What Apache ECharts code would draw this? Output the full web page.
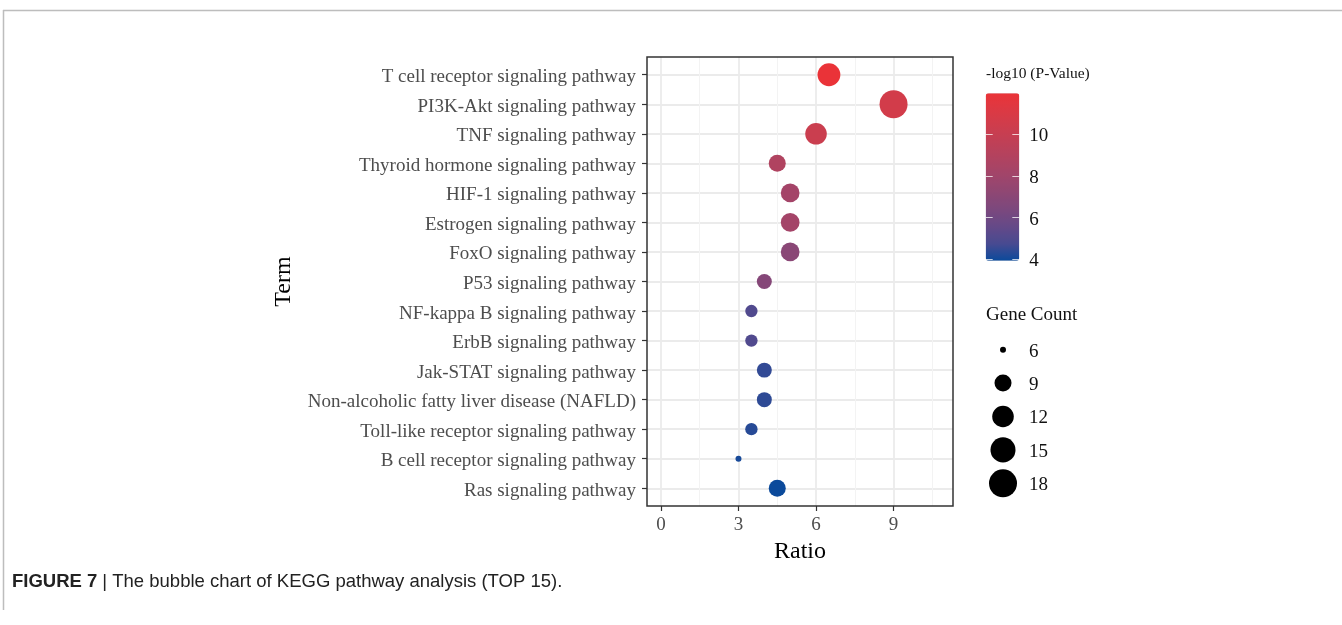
<!DOCTYPE html>
<html><head><meta charset="utf-8">
<script src="https://cdn.jsdelivr.net/npm/echarts@6/dist/echarts.min.js"></script>
<style>html,body{margin:0;padding:0;background:#fff}#c{width:1342px;height:625px}</style>
</head><body><div id="c"></div>
<script>
// ---- data ----
const terms = [
  'T cell receptor signaling pathway',
  'PI3K-Akt signaling pathway',
  'TNF signaling pathway',
  'Thyroid hormone signaling pathway',
  'HIF-1 signaling pathway',
  'Estrogen signaling pathway',
  'FoxO signaling pathway',
  'P53 signaling pathway',
  'NF-kappa B signaling pathway',
  'ErbB signaling pathway',
  'Jak-STAT signaling pathway',
  'Non-alcoholic fatty liver disease (NAFLD)',
  'Toll-like receptor signaling pathway',
  'B cell receptor signaling pathway',
  'Ras signaling pathway'
];
const ratios = [6.5, 9, 6, 4.5, 5, 5, 5, 4, 3.5, 3.5, 4, 4, 3.5, 3, 4.5];
const geneCounts = [13, 18, 12, 9, 10, 10, 10, 8, 7, 7, 8, 8, 7, 6, 9];
const negLog10P = [11.96, 10.6, 10.2, 8.8, 8.2, 8.2, 7.0, 6.8, 5.0, 5.0, 4.45, 4.4, 4.3, 4.1, 3.93];
const xTicks = [0, 3, 6, 9];
const xMinorTicks = [1.5, 4.5, 7.5, 10.5];
const colorTicks = [4, 6, 8, 10];
const sizeBreaks = [6, 9, 12, 15, 18];

// ---- helpers ----
function hex2rgb(h){h=h.replace('#','');return [0,2,4].map(i=>parseInt(h.substr(i,2),16));}
function lin(c){c/=255;return c<=0.04045?c/12.92:Math.pow((c+0.055)/1.055,2.4);}
function unlin(c){c=c<=0.0031308?12.92*c:1.055*Math.pow(c,1/2.4)-0.055;return Math.max(0,Math.min(255,Math.round(c*255)));}
const Xn=0.95047,Yn=1,Zn=1.08883;
function f(t){return t>0.008856?Math.cbrt(t):7.787*t+16/116;}
function finv(t){return t>0.206893?t*t*t:(t-16/116)/7.787;}
function rgb2lab(rgb){const [r,g,b]=rgb.map(lin);
  const X=r*0.4124+g*0.3576+b*0.1805,Y=r*0.2126+g*0.7152+b*0.0722,Z=r*0.0193+g*0.1192+b*0.9505;
  const fx=f(X/Xn),fy=f(Y/Yn),fz=f(Z/Zn);return [116*fy-16,500*(fx-fy),200*(fy-fz)];}
function lab2hex(lab){const fy=(lab[0]+16)/116,fx=fy+lab[1]/500,fz=fy-lab[2]/200;
  const X=Xn*finv(fx),Y=Yn*finv(fy),Z=Zn*finv(fz);
  const r=X*3.2406+Y*-1.5372+Z*-0.4986,g=X*-0.9689+Y*1.8758+Z*0.0415,b=X*0.0557+Y*-0.2040+Z*1.0570;
  return '#'+[r,g,b].map(unlin).map(v=>v.toString(16).padStart(2,'0')).join('');}
function labRamp(lo,hi,n){const a=rgb2lab(hex2rgb(lo)),b=rgb2lab(hex2rgb(hi));const out=[];
  for(let i=0;i<n;i++){const t=i/(n-1);out.push(lab2hex(a.map((v,k)=>v+(b[k]-v)*t)));}return out;}

const colorMin = Math.min(...negLog10P), colorMax = Math.max(...negLog10P);
const cMin = Math.min(...sizeBreaks), cMax = Math.max(...sizeBreaks);
function sizeFn(c){return 6 + 22*Math.sqrt((c-cMin)/(cMax-cMin));}

const serif = '"Liberation Serif", "DejaVu Serif", serif';
const sans = '"Liberation Sans", Arial, sans-serif';
const lblGrey = {fontFamily:serif, fontSize:19, color:'#4d4d4d', padding:[5,0,0,0]};
const lblDark = {fontFamily:serif, fontSize:19, color:'#111', padding:[4,0,0,0]};
const chart = echarts.init(document.getElementById('c'), null, {renderer:'canvas'});

chart.setOption({
  backgroundColor:'#fff',
  animation:false,
  title:[
    {left:12, top:572, padding:0, text:'{b|FIGURE 7} {n|| The bubble chart of KEGG pathway analysis (TOP 15).}',
     textStyle:{fontWeight:'normal', rich:{b:{fontFamily:sans,fontWeight:'bold',fontSize:18.5,color:'#222'},
       n:{fontFamily:sans,fontWeight:'normal',fontSize:18.5,color:'#222'}}}},
    {left:986, top:66, padding:0, text:'-log10 (P-Value)', textStyle:{fontFamily:serif,fontSize:15.5,fontWeight:'normal',color:'#111'}},
    {left:986, top:306, padding:0, text:'Gene Count', textStyle:{fontFamily:serif,fontSize:19,fontWeight:'normal',color:'#111'}}
  ],
  graphic:[
    {type:'line',shape:{x1:3,y1:10.5,x2:1342,y2:10.5},style:{stroke:'#bdbdbd',lineWidth:1.5},silent:true},
    {type:'line',shape:{x1:3.5,y1:10,x2:3.5,y2:610},style:{stroke:'#bdbdbd',lineWidth:1.5},silent:true}
  ],
  grid:[
    {left:647, top:57, width:306, height:449, show:true, borderColor:'#333', borderWidth:1.5, backgroundColor:'transparent', z:3},
    {left:985.7, top:93.3, width:33.6, height:167.4},
    {left:990, top:333, width:26, height:167}
  ],
  visualMap:{
    type:'continuous', seriesIndex:0, dimension:2, min:colorMin, max:colorMax,
    left:985.7, top:93.3, itemWidth:33.6, itemHeight:167.4, padding:0,
    calculable:false, hoverLink:false, text:null, showLabel:false,
    inRange:{color: labRamp('#0b4a9b','#ea3338',11)}
  },
  xAxis:[
    {gridIndex:0, type:'value', min:-0.54, max:11.3, name:'Ratio', nameLocation:'middle', nameGap:32,
     nameTextStyle:{fontFamily:serif,fontSize:24,color:'#000'},
     axisLine:{show:false, onZero:false},
     axisTick:{show:true, customValues:xTicks, length:5, lineStyle:{color:'#333',width:1.2}},
     axisLabel:{customValues:xTicks, fontFamily:serif, fontSize:19, color:'#4d4d4d', margin:10},
     splitLine:{show:true, lineStyle:{color:'#ebebeb', width:1.8}}},
    {gridIndex:0, type:'value', min:-0.54, max:11.3,
     axisLine:{show:false, onZero:false}, axisLabel:{show:false},
     axisTick:{show:false, customValues:xMinorTicks},
     splitLine:{show:true, lineStyle:{color:'#f3f3f3', width:1}}},
    {gridIndex:1, type:'value', show:false},
    {gridIndex:2, type:'value', show:false, min:-1, max:1}
  ],
  yAxis:[
    {gridIndex:0, type:'value', inverse:true, min:-0.6, max:14.6, name:'Term', nameLocation:'middle', nameGap:351,
     nameTextStyle:{fontFamily:serif,fontSize:24,color:'#000'},
     axisLine:{show:false, onZero:false},
     axisTick:{show:true, customValues:terms.map((t,i)=>i), length:5, lineStyle:{color:'#333',width:1.2}},
     axisLabel:{customValues:terms.map((t,i)=>i), formatter:v=>'{a|'+terms[Math.round(v)]+'}',
       fontFamily:serif, fontSize:19, color:'#4d4d4d', margin:11, rich:{a:lblGrey}},
     splitLine:{show:true, lineStyle:{color:'#ebebeb', width:1.8}}},
    {gridIndex:1, type:'value', min:colorMin, max:colorMax, position:'left', z:10,
     axisLine:{show:false, onZero:false}, axisLabel:{show:false}, splitLine:{show:false},
     axisTick:{show:true, inside:true, length:7, customValues:colorTicks, lineStyle:{color:'rgba(255,255,255,0.75)',width:1}}},
    {gridIndex:1, type:'value', min:colorMin, max:colorMax, position:'right', z:10,
     axisLine:{show:false, onZero:false}, splitLine:{show:false},
     axisTick:{show:true, inside:true, length:7, customValues:colorTicks, lineStyle:{color:'rgba(255,255,255,0.75)',width:1}},
     axisLabel:{customValues:colorTicks, formatter:v=>'{a|'+v+'}', fontFamily:serif, fontSize:19, color:'#111', margin:10, rich:{a:lblDark}}},
    {gridIndex:2, type:'category', inverse:true, position:'right', data:sizeBreaks.map(String),
     axisLine:{show:false, onZero:false}, axisTick:{show:false}, splitLine:{show:false},
     axisLabel:{formatter:v=>'{a|'+v+'}', fontFamily:serif, fontSize:19, color:'#111', margin:13, rich:{a:lblDark}}}
  ],
  series:[
    {type:'scatter', xAxisIndex:0, yAxisIndex:0, z:4,
     data: terms.map((t,i)=>[ratios[i], i, negLog10P[i], geneCounts[i]]),
     symbolSize: v=>sizeFn(v[3]), itemStyle:{opacity:1}},
    {type:'scatter', xAxisIndex:3, yAxisIndex:3,
     data: sizeBreaks.map((s,i)=>[0, i, s]),
     symbolSize: v=>sizeFn(v[2]), itemStyle:{color:'#000', opacity:1}}
  ]
});
</script></body></html>
